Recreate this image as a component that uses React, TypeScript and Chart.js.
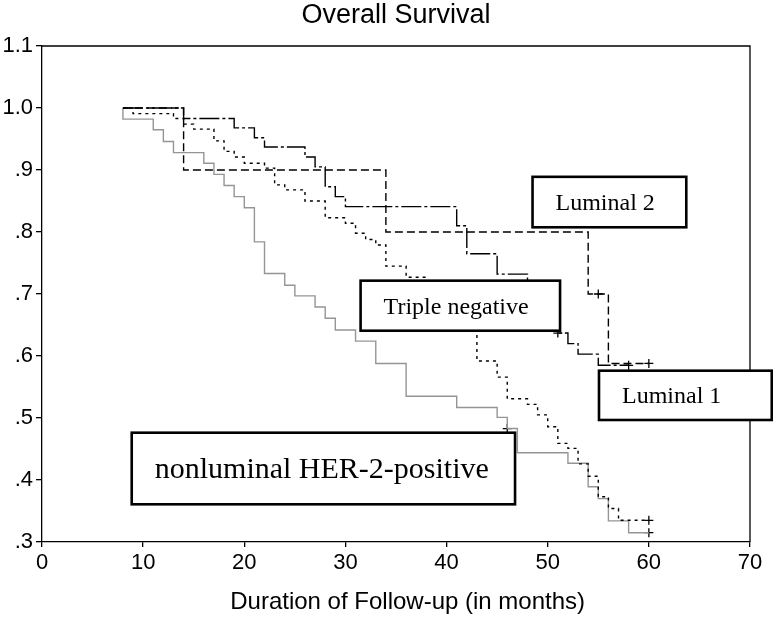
import React, { useEffect, useRef } from 'react';
import { Chart, registerables } from 'chart.js';

Chart.register(...registerables);

// ---- Data ----
const chartTitle = 'Overall Survival';
const xAxisTitle = 'Duration of Follow-up (in months)';
const yTickLabels = ['.3', '.4', '.5', '.6', '.7', '.8', '.9', '1.0', '1.1'];

// Luminal 1 (black, dash-dot)
const lum1X = [8, 14, 19, 21, 22, 26, 27, 28, 29, 30, 41, 42, 45, 48, 49, 50, 51, 52, 53, 55, 58];
const lum1Y = [1.0, 0.983, 0.968, 0.952, 0.937, 0.921, 0.905, 0.873, 0.857, 0.841, 0.81, 0.765, 0.732, 0.72, 0.69, 0.66, 0.637, 0.62, 0.603, 0.585, 0.585];
const lum1CensorX = [51, 58];
const lum1CensorY = [0.637, 0.585];

// Luminal 2 (black, dashed)
const lum2X = [8, 14, 34, 54, 56, 60];
const lum2Y = [1.0, 0.9, 0.8, 0.7, 0.588, 0.588];
const lum2CensorX = [55, 60];
const lum2CensorY = [0.7, 0.588];

// Triple negative (black, short dashes)
const tnX = [8, 9, 13, 14, 15, 17, 18, 19, 20, 22, 23, 24, 26, 28, 30, 31, 32, 33, 34, 36, 38, 40, 42, 43, 45, 46, 48, 49, 50, 51, 52, 53, 54, 55, 56, 57, 60];
const tnY = [1.0, 0.991, 0.983, 0.974, 0.966, 0.947, 0.93, 0.921, 0.911, 0.903, 0.876, 0.868, 0.85, 0.823, 0.814, 0.798, 0.788, 0.779, 0.745, 0.727, 0.71, 0.69, 0.66, 0.592, 0.566, 0.531, 0.522, 0.505, 0.486, 0.459, 0.451, 0.426, 0.406, 0.373, 0.354, 0.335, 0.335];
const tnCensorX = [60];
const tnCensorY = [0.335];

// nonluminal HER-2-positive (gray, solid)
const herX = [8, 8, 11, 12, 13, 16, 17, 18, 19, 20, 21, 22, 24, 25, 27, 28, 29, 31, 33, 36, 41, 45, 46, 47, 52, 54, 55, 56, 58, 60];
const herY = [1.0, 0.982, 0.965, 0.946, 0.928, 0.911, 0.893, 0.875, 0.857, 0.839, 0.784, 0.733, 0.714, 0.697, 0.679, 0.661, 0.642, 0.624, 0.588, 0.535, 0.517, 0.501, 0.483, 0.444, 0.427, 0.389, 0.37, 0.334, 0.315, 0.315];
const herCensorX = [46, 60];
const herCensorY = [0.483, 0.315];

// Label boxes (in data coordinates)
const boxLabels = ['Luminal 2', 'Triple negative', 'Luminal 1', 'nonluminal HER-2-positive'];
const boxX0 = [48.5, 31.5, 55.07, 8.87];
const boxX1 = [63.7, 51.22, 72.15, 46.77];
const boxY0 = [0.889, 0.7215, 0.5763, 0.4763];
const boxY1 = [0.8076, 0.6408, 0.4968, 0.3608];
const boxFont = [24, 24, 24, 30];

const pts = (xs: number[], ys: number[]) => xs.map((x, i) => ({ x, y: ys[i] }));

const SANS = '"Liberation Sans", Arial, sans-serif';

const overlayPlugin = {
  id: 'overlay',
  beforeDatasetsDraw(chart: any) {
    const { ctx, chartArea } = chart;
    ctx.save();
    ctx.strokeStyle = '#000';
    ctx.lineWidth = 1.3;
    ctx.beginPath();
    ctx.moveTo(chartArea.left, chartArea.top);
    ctx.lineTo(chartArea.right, chartArea.top);
    ctx.lineTo(chartArea.right, chartArea.bottom);
    ctx.stroke();
    ctx.restore();
  },
  afterDraw(chart: any) {
    const { ctx, chartArea } = chart;
    const xs = chart.scales.x;
    const ys = chart.scales.y;
    ctx.save();
    ctx.fillStyle = '#000';
    ctx.textAlign = 'center';
    ctx.textBaseline = 'middle';
    ctx.font = `27px ${SANS}`;
    ctx.fillText(chartTitle, (chartArea.left + chartArea.right) / 2, 16);
    ctx.font = `24px ${SANS}`;
    ctx.fillText(xAxisTitle, xs.getPixelForValue(36.15), 602);

    for (let i = 0; i < boxLabels.length; i++) {
      const l = xs.getPixelForValue(boxX0[i]);
      const r = xs.getPixelForValue(boxX1[i]);
      const t = ys.getPixelForValue(boxY0[i]);
      const b = ys.getPixelForValue(boxY1[i]);
      ctx.fillStyle = '#fff';
      ctx.fillRect(l, t, r - l, b - t);
      ctx.strokeStyle = '#000';
      ctx.lineWidth = 2.6;
      ctx.strokeRect(l, t, r - l, b - t);
      ctx.fillStyle = '#000';
      ctx.textAlign = 'left';
      ctx.textBaseline = 'alphabetic';
      const fs = boxFont[i];
      ctx.font = `${fs}px "Liberation Serif", "Times New Roman", serif`;
      ctx.fillText(boxLabels[i], l + 23, (t + b) / 2 + fs * 0.33);
    }
    ctx.restore();
  },
};

export default function App() {
  const ref = useRef<HTMLCanvasElement | null>(null);

  useEffect(() => {
    if (!ref.current) return;
    const lineDs = (label: string, xs: number[], ys: number[], color: string, dash: number[]) => ({
      type: 'scatter' as const,
      label,
      data: pts(xs, ys),
      showLine: true,
      stepped: 'before' as const,
      borderColor: color,
      backgroundColor: color,
      borderWidth: 1.4,
      borderDash: dash,
      pointRadius: 0,
      fill: false,
    });
    const censorDs = (label: string, xs: number[], ys: number[]) => ({
      type: 'scatter' as const,
      label,
      data: pts(xs, ys),
      showLine: false,
      pointStyle: 'cross' as const,
      pointRadius: 4.5,
      borderColor: '#000',
      borderWidth: 1.3,
    });

    const chart = new Chart(ref.current, {
      type: 'scatter',
      data: {
        datasets: [
          lineDs('Luminal 1', lum1X, lum1Y, '#000', [20, 3, 3, 3]),
          lineDs('Luminal 2', lum2X, lum2Y, '#000', [8, 4]),
          lineDs('Triple negative', tnX, tnY, '#000', [3, 4]),
          lineDs('nonluminal HER-2-positive', herX, herY, '#959595', []),
          censorDs('Luminal 1 censored', lum1CensorX, lum1CensorY),
          censorDs('Luminal 2 censored', lum2CensorX, lum2CensorY),
          censorDs('Triple negative censored', tnCensorX, tnCensorY),
          censorDs('HER-2 censored', herCensorX, herCensorY),
        ] as any,
      },
      options: {
        animation: false,
        responsive: false,
        devicePixelRatio: 1,
        layout: { padding: { top: 46, right: 23, left: 0, bottom: 0 } },
        plugins: { legend: { display: false }, tooltip: { enabled: false }, title: { display: false } },
        scales: {
          x: {
            type: 'linear',
            min: 0,
            max: 70,
            afterFit: (s: any) => { s.height = 75; },
            ticks: { stepSize: 10, color: '#000', font: { family: SANS, size: 22 }, padding: 3, maxRotation: 0 },
            grid: { drawOnChartArea: false, drawTicks: true, tickLength: 5, color: '#000', lineWidth: 1.3 },
            border: { display: true, color: '#000', width: 1.3 },
          },
          y: {
            type: 'linear',
            min: 0.3,
            max: 1.1,
            afterFit: (s: any) => { s.width = 42; },
            ticks: {
              stepSize: 0.1,
              color: '#000',
              font: { family: SANS, size: 22 },
              padding: 3,
              callback: (v: any) => yTickLabels[Math.round(Number(v) * 10) - 3] ?? '',
            },
            grid: { drawOnChartArea: false, drawTicks: true, tickLength: 6, color: '#000', lineWidth: 1.3 },
            border: { display: true, color: '#000', width: 1.3 },
          },
        },
      } as any,
      plugins: [overlayPlugin],
    });
    return () => chart.destroy();
  }, []);

  return (
    <div style={{ position: 'absolute', left: 0, top: 0, width: 773, height: 617, background: '#fff' }}>
      <canvas ref={ref} width={773} height={617} style={{ width: 773, height: 617, display: 'block' }} />
    </div>
  );
}
